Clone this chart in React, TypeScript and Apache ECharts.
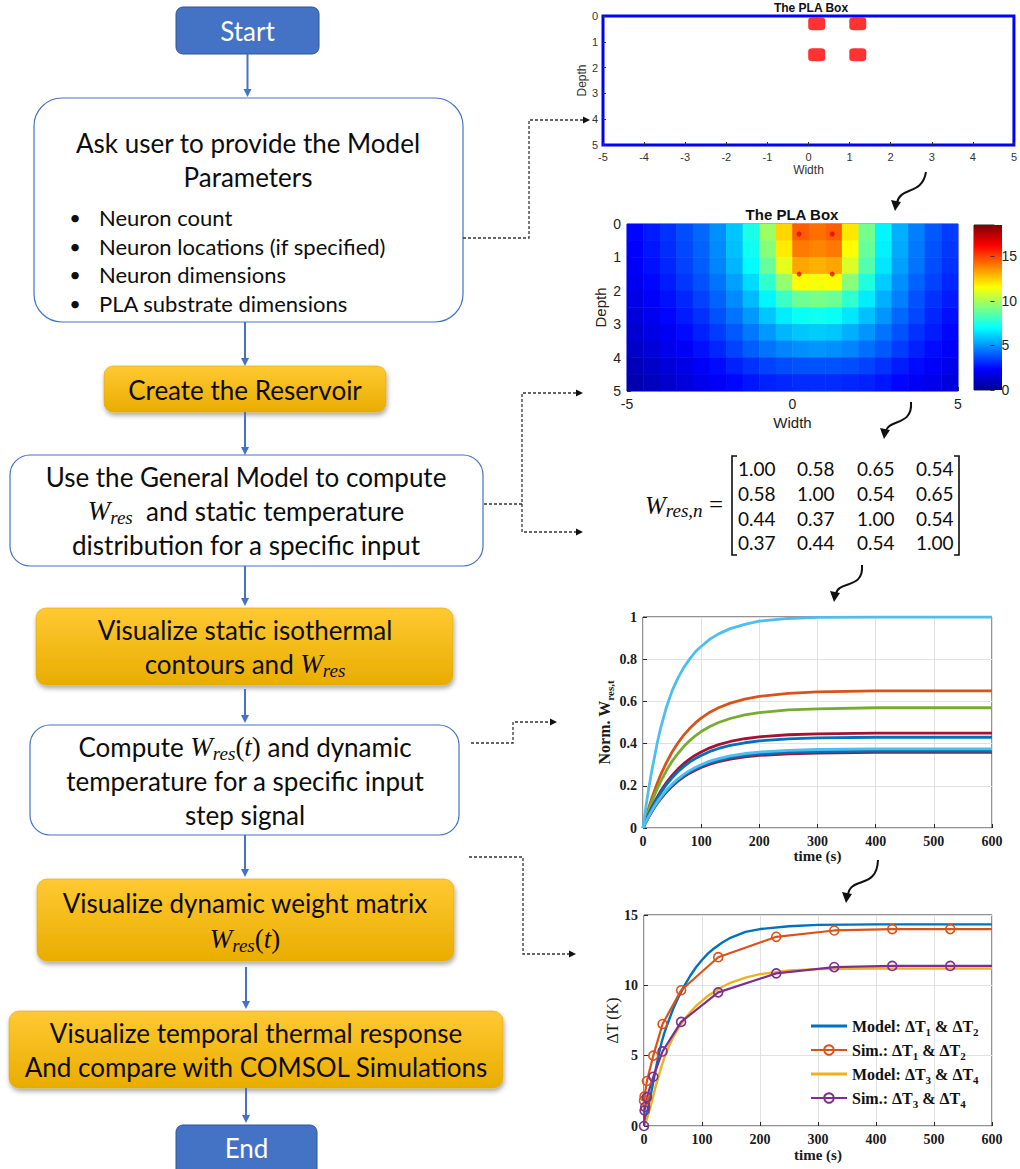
import React, { useEffect, useRef } from "react";
import * as echarts from "echarts";

// ---------------- data ----------------
const neuronX = [0.2, 1.2];
const neuronDepth = [0.3, 1.5];

const heatWidthCenters = [-4.75, -4.25, -3.75, -3.25, -2.75, -2.25, -1.75, -1.25, -0.75, -0.25, 0.25, 0.75, 1.25, 1.75, 2.25, 2.75, 3.25, 3.75, 4.25, 4.75];
const heatDepthCenters = [0.25, 0.75, 1.25, 1.75, 2.25, 2.75, 3.25, 3.75, 4.25, 4.75];
const heatRows = [
  [2.4, 2.8, 3.2, 3.7, 4.2, 4.9, 5.9, 7.4, 9.8, 12.3, 14.5, 14.2, 14.5, 12.0, 9.0, 6.8, 5.5, 4.6, 3.9, 3.4],
  [2.3, 2.7, 3.1, 3.6, 4.1, 4.8, 5.8, 7.2, 9.4, 11.9, 14.0, 13.8, 14.0, 11.6, 8.8, 6.7, 5.4, 4.5, 3.8, 3.3],
  [2.2, 2.6, 3.0, 3.5, 4.0, 4.7, 5.6, 6.9, 8.8, 11.1, 13.2, 13.0, 13.2, 10.9, 8.4, 6.5, 5.2, 4.4, 3.7, 3.2],
  [2.0, 2.4, 2.8, 3.3, 3.8, 4.4, 5.2, 6.3, 7.8, 9.6, 11.6, 11.4, 11.6, 9.4, 7.5, 6.0, 4.9, 4.1, 3.5, 3.0],
  [1.8, 2.2, 2.6, 3.0, 3.5, 4.1, 4.8, 5.7, 6.8, 8.0, 8.9, 9.1, 8.9, 7.8, 6.6, 5.5, 4.6, 3.8, 3.2, 2.8],
  [1.6, 2.0, 2.4, 2.8, 3.2, 3.8, 4.4, 5.1, 5.9, 6.6, 7.1, 7.2, 7.1, 6.5, 5.8, 5.0, 4.2, 3.6, 3.0, 2.6],
  [1.4, 1.8, 2.1, 2.5, 2.9, 3.4, 3.9, 4.5, 5.1, 5.6, 5.9, 6.0, 5.9, 5.5, 5.0, 4.4, 3.8, 3.2, 2.8, 2.4],
  [1.2, 1.5, 1.9, 2.2, 2.6, 3.0, 3.5, 4.0, 4.4, 4.7, 4.9, 5.0, 4.9, 4.7, 4.3, 3.9, 3.4, 2.9, 2.5, 2.2],
  [0.9, 1.2, 1.5, 1.8, 2.2, 2.5, 2.9, 3.2, 3.5, 3.7, 3.8, 3.8, 3.8, 3.7, 3.5, 3.2, 2.8, 2.5, 2.2, 1.9],
  [0.7, 1.0, 1.3, 1.6, 1.9, 2.2, 2.4, 2.7, 2.9, 3.0, 3.1, 3.1, 3.1, 3.0, 2.9, 2.7, 2.4, 2.1, 1.9, 1.6],
];
const colorbarMax = 18.5;

const matrixRows = [
  ["1.00", "0.58", "0.65", "0.54"],
  ["0.58", "1.00", "0.54", "0.65"],
  ["0.44", "0.37", "1.00", "0.54"],
  ["0.37", "0.44", "0.54", "1.00"],
];

const timeNorm = [0, 5, 10, 15, 20, 25, 30, 40, 50, 60, 70, 80, 90, 100, 115, 130, 150, 175, 200, 250, 300, 400, 600];
const normSelf = [0, 0.1, 0.19, 0.27, 0.34, 0.41, 0.47, 0.57, 0.65, 0.71, 0.76, 0.8, 0.835, 0.86, 0.895, 0.92, 0.945, 0.965, 0.98, 0.993, 0.998, 1.0, 1.0];
const normOrange = [0, 0.05, 0.097, 0.14, 0.179, 0.216, 0.25, 0.309, 0.36, 0.403, 0.44, 0.471, 0.498, 0.521, 0.549, 0.57, 0.592, 0.611, 0.624, 0.638, 0.645, 0.65, 0.65];
const normGreen = [0, 0.044, 0.085, 0.123, 0.157, 0.189, 0.219, 0.271, 0.316, 0.353, 0.386, 0.413, 0.437, 0.457, 0.481, 0.5, 0.519, 0.536, 0.547, 0.56, 0.565, 0.57, 0.57];
const normRedHigh = [0, 0.035, 0.067, 0.097, 0.124, 0.149, 0.173, 0.214, 0.249, 0.279, 0.305, 0.326, 0.345, 0.36, 0.38, 0.395, 0.41, 0.423, 0.432, 0.442, 0.446, 0.45, 0.45];
const normBlueHigh = [0, 0.033, 0.064, 0.092, 0.119, 0.143, 0.165, 0.205, 0.238, 0.267, 0.291, 0.312, 0.329, 0.344, 0.363, 0.377, 0.392, 0.404, 0.413, 0.422, 0.427, 0.43, 0.43];
const normRedLow = [0, 0.028, 0.053, 0.077, 0.099, 0.119, 0.137, 0.17, 0.198, 0.222, 0.242, 0.26, 0.274, 0.287, 0.302, 0.314, 0.326, 0.337, 0.344, 0.352, 0.355, 0.358, 0.358];
const normBlueLow = [0, 0.028, 0.054, 0.078, 0.101, 0.121, 0.14, 0.174, 0.202, 0.226, 0.247, 0.265, 0.28, 0.292, 0.308, 0.32, 0.333, 0.343, 0.35, 0.358, 0.362, 0.365, 0.365];
const normCyanLow = [0, 0.029, 0.056, 0.081, 0.104, 0.125, 0.144, 0.179, 0.208, 0.233, 0.254, 0.272, 0.287, 0.3, 0.317, 0.329, 0.342, 0.353, 0.36, 0.368, 0.372, 0.375, 0.375];

const modelTime = [0, 5, 10, 15, 20, 25, 30, 35, 40, 50, 60, 70, 80, 90, 100, 110, 120, 135, 150, 175, 200, 250, 300, 400, 600];
const modelT12 = [0, 0.9, 1.9, 2.9, 4.0, 5.0, 5.9, 6.6, 7.2, 8.3, 9.2, 10.0, 10.7, 11.3, 11.8, 12.25, 12.6, 13.05, 13.4, 13.8, 14.0, 14.2, 14.3, 14.33, 14.33];
const modelT34 = [0, 0.5, 1.2, 2.0, 2.8, 3.5, 4.2, 4.85, 5.4, 6.3, 7.0, 7.6, 8.1, 8.55, 8.9, 9.25, 9.5, 9.9, 10.2, 10.55, 10.8, 11.05, 11.15, 11.2, 11.2];
const simTime12 = [0, 1, 5, 16, 32, 64, 128, 228, 328, 428, 528, 600];
const simT12 = [1.8, 2.1, 3.2, 5.0, 7.25, 9.65, 12.0, 13.45, 13.9, 14.0, 14.0, 14.0];
const simTime34 = [0, 1, 2, 5, 16, 32, 64, 128, 228, 328, 428, 528, 600];
const simT34 = [0, 1.1, 1.35, 2.05, 3.5, 5.3, 7.4, 9.5, 10.85, 11.3, 11.38, 11.38, 11.38];
const legendNames = ["Model: ΔT1 & ΔT2", "Sim.: ΔT1 & ΔT2", "Model: ΔT3 & ΔT4", "Sim.: ΔT3 & ΔT4"];

// ---------------- styles ----------------
const FLOW = "Lato, 'Noto Sans', sans-serif";
const SERIF = "'Liberation Serif', 'DejaVu Serif', serif";
const ARIAL = "'Liberation Sans', Arial, sans-serif";
const BLUE = "#4472C4";
const INK = "#0d0d0d";
const JET = ["#00008F", "#0000FF", "#0080FF", "#00FFFF", "#80FF80", "#FFFF00", "#FF8000", "#FF0000", "#800000"];
const FS = 26;
// legend icon for plain model lines: a centred horizontal band inside a 36x12 box
const LINE_ICON = "path://M0,0L0.01,0L0.01,0.01Z M0,4.6L36,4.6L36,7.4L0,7.4Z M35.99,12L36,12L36,11.99Z";

const flowRich = (size: number) => ({
  t: { fill: INK, fontFamily: FLOW, fontSize: size, lineHeight: 32 },
  w: { fill: INK, fontFamily: SERIF, fontStyle: "italic", fontSize: size + 1, lineHeight: 32 },
  p: { fill: INK, fontFamily: SERIF, fontSize: size + 1, lineHeight: 32 },
  s: { fill: INK, fontFamily: SERIF, fontStyle: "italic", fontSize: size - 7, lineHeight: 19, verticalAlign: "bottom" },
});

function txt(x: number, y: number, text: string, o: any = {}) {
  return {
    type: "text",
    x,
    y,
    z: 50,
    silent: true,
    style: {
      text,
      fill: o.fill || INK,
      fontSize: o.size || FS,
      fontFamily: o.font || FLOW,
      fontWeight: o.weight || "normal",
      fontStyle: o.fontStyle || "normal",
      align: o.align || "center",
      verticalAlign: "middle",
      rich: o.rich,
    },
  };
}

function box(x: number, y: number, w: number, h: number, kind: string, r = 10) {
  if (kind === "gold") {
    return {
      type: "rect",
      silent: true,
      shape: { x, y, width: w, height: h, r },
      style: {
        fill: new echarts.graphic.LinearGradient(0, 0, 0, 1, [
          { offset: 0, color: "#FFC933" },
          { offset: 1, color: "#E9AD00" },
        ]),
        stroke: "#E0A800",
        lineWidth: 0.6,
        shadowBlur: 5,
        shadowOffsetX: 1,
        shadowOffsetY: 3,
        shadowColor: "rgba(0,0,0,0.35)",
      },
    };
  }
  if (kind === "blue") {
    return {
      type: "rect",
      silent: true,
      shape: { x, y, width: w, height: h, r },
      style: { fill: BLUE, stroke: "#2F5597", lineWidth: 1 },
    };
  }
  return {
    type: "rect",
    silent: true,
    shape: { x, y, width: w, height: h, r },
    style: { fill: "#FFFFFF", stroke: BLUE, lineWidth: 1.2 },
  };
}

function downArrow(x: number, y1: number, y2: number) {
  return [
    { type: "line", silent: true, shape: { x1: x, y1, x2: x, y2: y2 - 6 }, style: { stroke: BLUE, lineWidth: 2 } },
    { type: "polygon", silent: true, shape: { points: [[x - 4, y2 - 8], [x + 4, y2 - 8], [x, y2]] }, style: { fill: BLUE } },
  ];
}

function dashed(points: number[][]) {
  return { type: "polyline", silent: true, shape: { points }, style: { stroke: "#333", lineWidth: 1.3, lineDash: [3, 2], fill: null } };
}
function rightHead(x: number, y: number) {
  return { type: "polygon", silent: true, shape: { points: [[x - 7, y - 3.5], [x - 7, y + 3.5], [x, y]] }, style: { fill: "#111" } };
}

function curvyArrow(x1: number, y1: number, c1x: number, c1y: number, c2x: number, c2y: number, x2: number, y2: number) {
  return [
    {
      type: "bezierCurve",
      silent: true,
      shape: { x1, y1, cpx1: c1x, cpy1: c1y, cpx2: c2x, cpy2: c2y, x2, y2 },
      style: { stroke: "#111", lineWidth: 2, fill: null },
    },
    {
      type: "polygon",
      silent: true,
      shape: { points: [[x2 - 6, y2 - 3], [x2 + 4, y2 - 1], [x2 - 2, y2 + 8]] },
      style: { fill: "#111" },
    },
  ];
}

function buildGraphics() {
  const els: any[] = [];
  // ---- flowchart ----
  els.push(box(176, 7, 143, 47, "blue", 7));
  els.push(txt(247.5, 31, "Start", { fill: "#FFFFFF", size: 26 }));
  els.push(...downArrow(247.5, 54, 97));

  els.push(box(34, 98, 429, 224, "white", 28));
  els.push(txt(248, 143, "Ask user to provide the Model"));
  els.push(txt(248, 177, "Parameters"));
  const bullets = ["Neuron count", "Neuron locations (if specified)", "Neuron dimensions", "PLA substrate dimensions"];
  const bulletY = [217, 246, 274, 303];
  bullets.forEach((b, i) => {
    els.push(txt(75, bulletY[i], "•", { size: 20, align: "center" }));
    els.push(txt(99, bulletY[i], b, { size: 22, align: "left" }));
  });
  els.push(...downArrow(245, 322, 366));

  els.push(box(104, 366, 282, 46, "gold", 9));
  els.push(txt(245, 390, "Create the Reservoir"));
  els.push(...downArrow(245, 412, 455));

  els.push(box(10, 455, 473, 111, "white", 20));
  els.push(txt(246, 477, "Use the General Model to compute"));
  els.push(txt(246, 511, "{w|W}{s|res}{t|  and static temperature}", { rich: flowRich(FS) }));
  els.push(txt(246, 545, "distribution for a specific input"));
  els.push(...downArrow(245, 566, 606));

  els.push(box(36, 608, 417, 77, "gold", 10));
  els.push(txt(245, 630, "Visualize static isothermal"));
  els.push(txt(245, 664, "{t|contours and }{w|W}{s|res}", { rich: flowRich(FS) }));
  els.push(...downArrow(245, 689, 723));

  els.push(box(30, 725, 429, 110, "white", 20));
  els.push(txt(245, 747, "{t|Compute }{w|W}{s|res}{p|(}{w|t}{p|)}{t| and dynamic}", { rich: flowRich(FS) }));
  els.push(txt(245, 781, "temperature for a specific input"));
  els.push(txt(245, 815, "step signal"));
  els.push(...downArrow(245, 835, 877));

  els.push(box(37, 879, 417, 82, "gold", 10));
  els.push(txt(245, 903, "Visualize dynamic weight matrix"));
  els.push(txt(245, 939, "{w|W}{s|res}{p|(}{w|t}{p|)}", { rich: flowRich(FS) }));
  els.push(...downArrow(246, 967, 1009));

  els.push(box(9, 1011, 494, 77, "gold", 10));
  els.push(txt(256, 1033, "Visualize temporal thermal response"));
  els.push(txt(256, 1067, "And compare with COMSOL Simulations"));
  els.push(...downArrow(246, 1088, 1123));

  els.push(box(176, 1125, 141, 60, "blue", 7));
  els.push(txt(246.5, 1148, "End", { fill: "#FFFFFF", size: 26 }));

  // ---- dashed connectors ----
  els.push(dashed([[463, 238], [529, 238], [529, 120], [584, 120]]));
  els.push(rightHead(590, 120));
  els.push(dashed([[484, 504], [522, 504]]));
  els.push(dashed([[576, 393], [522, 393], [522, 532], [576, 532]]));
  els.push(rightHead(583, 393));
  els.push(rightHead(583, 532));
  els.push(dashed([[471, 743], [513, 743], [513, 722], [551, 722]]));
  els.push(rightHead(557, 722));
  els.push(dashed([[469, 857], [523, 857], [523, 954], [570, 954]]));
  els.push(rightHead(576, 954));

  // ---- curvy arrows ----
  els.push(...curvyArrow(926, 172, 922, 196, 900, 186, 897, 203));
  els.push(...curvyArrow(911, 402, 913, 426, 889, 419, 886, 431));
  els.push(...curvyArrow(862, 565, 864, 590, 838, 580, 836, 594));
  els.push(...curvyArrow(878, 860, 877, 890, 850, 876, 848, 895));

  // ---- chart titles ----
  els.push(txt(811, 8, "The PLA Box", { font: ARIAL, weight: "bold", size: 12, fill: "#111" }));
  els.push(txt(792, 214, "The PLA Box", { font: ARIAL, weight: "bold", size: 15, fill: "#111" }));

  // ---- colorbar ----
  els.push({
    type: "rect",
    silent: true,
    shape: { x: 974, y: 225, width: 28, height: 165 },
    style: {
      fill: new echarts.graphic.LinearGradient(
        0, 1, 0, 0,
        JET.map((c, i) => ({ offset: i / (JET.length - 1), color: c }))
      ),
    },
  });

  // ---- matrix ----
  els.push(
    txt(645, 505, "{w|W}{s|res,n}", {
      align: "left",
      rich: {
        w: { fill: INK, fontFamily: SERIF, fontStyle: "italic", fontSize: 25, lineHeight: 30 },
        s: { fill: INK, fontFamily: SERIF, fontStyle: "italic", fontSize: 19, lineHeight: 19, verticalAlign: "bottom" },
      },
    })
  );
  els.push(txt(716, 504, "=", { font: SERIF, size: 25 }));
  const colX = [738, 797, 857, 916];
  const rowY = [468, 493, 518, 542];
  matrixRows.forEach((row, ri) =>
    row.forEach((v, ci) => els.push(txt(colX[ci], rowY[ri], v, { align: "left", size: 19 })))
  );
  els.push({ type: "polyline", silent: true, shape: { points: [[737, 456], [732, 456], [732, 555], [737, 555]] }, style: { stroke: INK, lineWidth: 1.6, fill: null } });
  els.push({ type: "polyline", silent: true, shape: { points: [[954, 456], [959, 456], [959, 555], [954, 555]] }, style: { stroke: INK, lineWidth: 1.6, fill: null } });

  return els;
}

// ---------------- chart option ----------------
function matAxisLabel(size = 14) {
  return { fontFamily: SERIF, fontWeight: "bold", fontSize: size, color: "#1a1a1a" };
}
const noLine = { show: false, onZero: false };

function buildOption() {
  const heatData: number[][] = [];
  heatRows.forEach((row, yi) => row.forEach((v, xi) => heatData.push([xi, yi, v])));
  const neuronPts: number[][] = [];
  neuronDepth.forEach((d) => neuronX.forEach((x) => neuronPts.push([x, d])));

  const zip = (xs: number[], ys: number[]) => xs.map((x, i) => [x, ys[i]]);
  const normSeries = [
    { d: normOrange, c: "#D95319" },
    { d: normGreen, c: "#77AC30" },
    { d: normRedHigh, c: "#A2142F" },
    { d: normBlueHigh, c: "#0072BD" },
    { d: normRedLow, c: "#A2142F" },
    { d: normBlueLow, c: "#0072BD" },
    { d: normCyanLow, c: "#4DBEEE" },
    { d: normSelf, c: "#4DBEEE" },
  ].map((s) => ({
    type: "line",
    xAxisIndex: 4,
    yAxisIndex: 4,
    symbol: "none",
    showSymbol: false,
    smooth: false,
    silent: true,
    lineStyle: { color: s.c, width: 2.8, join: "round" },
    itemStyle: { color: s.c },
    data: zip(timeNorm, s.d),
  }));

  const simData = (ts: number[], vs: number[]) =>
    ts.map((t, i) => (i === ts.length - 1 ? { value: [t, vs[i]], symbol: "none" } : { value: [t, vs[i]] }));

  const legendRich = {
    b: { fontFamily: SERIF, fontWeight: "bold", fontSize: 16, color: "#111", lineHeight: 22 },
    s: { fontFamily: SERIF, fontWeight: "bold", fontSize: 11, color: "#111", lineHeight: 10, verticalAlign: "bottom" },
  };

  const simStyle = (c: string) => ({
    symbol: "circle",
    symbolSize: 9,
    itemStyle: { color: "rgba(255,255,255,0)", borderColor: c, borderWidth: 1.6 },
    lineStyle: { color: c, width: 2.2 },
  });

  const gridBorder = { show: true, borderColor: "#262626", borderWidth: 1, backgroundColor: "transparent" };

  return {
    animation: false,
    backgroundColor: "#FFFFFF",
    grid: [
      { left: 603, top: 16, width: 417, height: 129, show: true, borderColor: "#0000FF", borderWidth: 3, backgroundColor: "#FFFFFF" },
      { left: 627, top: 224, width: 331, height: 167, show: true, borderColor: "#3344FF", borderWidth: 1, backgroundColor: "transparent" },
      { left: 974, top: 225, width: 28, height: 165, ...gridBorder },
      { left: 643, top: 617, width: 349, height: 211, ...gridBorder },
      { left: 644, top: 915, width: 348, height: 211, ...gridBorder },
    ],
    xAxis: [
      {
        gridIndex: 0, type: "value", min: -5, max: 5, interval: 1,
        axisLine: noLine, splitLine: { show: false },
        axisTick: { inside: true, length: 3, lineStyle: { color: "#333" } },
        axisLabel: { fontFamily: ARIAL, fontSize: 11, color: "#333", margin: 6 },
        name: "Width", nameLocation: "middle", nameGap: 19,
        nameTextStyle: { fontFamily: ARIAL, fontSize: 12, color: "#333" },
      },
      {
        gridIndex: 1, type: "value", min: -5, max: 5, interval: 5,
        axisLine: noLine, splitLine: { show: false },
        axisTick: { inside: true, length: 4, lineStyle: { color: "#333" } },
        axisLabel: { fontFamily: ARIAL, fontSize: 14, color: "#222", margin: 6 },
        name: "Width", nameLocation: "middle", nameGap: 24,
        nameTextStyle: { fontFamily: ARIAL, fontSize: 15, color: "#222" },
      },
      { gridIndex: 1, type: "category", data: heatWidthCenters, show: false },
      { gridIndex: 2, type: "value", min: 0, max: 1, show: false },
      {
        gridIndex: 3, type: "value", min: 0, max: 600, interval: 100,
        axisLine: noLine,
        splitLine: { show: true, lineStyle: { color: "#E1E1E1", width: 1 } },
        axisTick: { inside: true, length: 4, lineStyle: { color: "#262626" } },
        axisLabel: { ...matAxisLabel(14), margin: 6 },
        name: "time (s)", nameLocation: "middle", nameGap: 16,
        nameTextStyle: { fontFamily: SERIF, fontWeight: "bold", fontSize: 15, color: "#1a1a1a", verticalAlign: "top" },
      },
      {
        gridIndex: 4, type: "value", min: 0, max: 600, interval: 100,
        axisLine: noLine,
        splitLine: { show: true, lineStyle: { color: "#E1E1E1", width: 1 } },
        axisTick: { inside: true, length: 4, lineStyle: { color: "#262626" } },
        axisLabel: { ...matAxisLabel(14), margin: 6 },
        name: "time (s)", nameLocation: "middle", nameGap: 21,
        nameTextStyle: { fontFamily: SERIF, fontWeight: "bold", fontSize: 15, color: "#1a1a1a", verticalAlign: "top" },
      },
    ],
    yAxis: [
      {
        gridIndex: 0, type: "value", min: 0, max: 5, interval: 1, inverse: true,
        axisLine: noLine, splitLine: { show: false },
        axisTick: { inside: true, length: 3, lineStyle: { color: "#333" } },
        axisLabel: { fontFamily: ARIAL, fontSize: 11, color: "#333", margin: 5 },
        name: "Depth", nameLocation: "middle", nameGap: 11,
        nameTextStyle: { fontFamily: ARIAL, fontSize: 12, color: "#333" },
      },
      {
        gridIndex: 1, type: "value", min: 0, max: 5, interval: 1, inverse: true,
        axisLine: noLine, splitLine: { show: false },
        axisTick: { inside: true, length: 4, lineStyle: { color: "#333" } },
        axisLabel: { fontFamily: ARIAL, fontSize: 14, color: "#222", margin: 6 },
        name: "Depth", nameLocation: "middle", nameGap: 19,
        nameTextStyle: { fontFamily: ARIAL, fontSize: 15, color: "#222" },
      },
      { gridIndex: 1, type: "category", data: heatDepthCenters, inverse: true, show: false },
      {
        gridIndex: 2, type: "value", min: 0, max: colorbarMax, interval: 5, position: "right",
        axisLine: noLine, splitLine: { show: false },
        axisTick: { inside: true, length: 4, lineStyle: { color: "#333" } },
        axisLabel: {
          fontFamily: ARIAL, fontSize: 14, color: "#222", margin: 7, showMaxLabel: false,
          formatter: (v: number) => (v % 5 === 0 ? String(v) : ""),
        },
      },
      {
        gridIndex: 3, type: "value", min: 0, max: 1, interval: 0.2,
        axisLine: noLine,
        splitLine: { show: true, lineStyle: { color: "#E1E1E1", width: 1 } },
        axisTick: { inside: true, length: 4, lineStyle: { color: "#262626" } },
        axisLabel: { ...matAxisLabel(14), margin: 6, formatter: (v: number) => String(Math.round(v * 10) / 10) },
        name: "{a|Norm. W}{b|res,t}", nameLocation: "middle", nameGap: 20,
        nameTextStyle: {
          rich: {
            a: { fontFamily: SERIF, fontWeight: "bold", fontSize: 16, color: "#1a1a1a", lineHeight: 22 },
            b: { fontFamily: SERIF, fontWeight: "bold", fontSize: 11, color: "#1a1a1a", lineHeight: 10, verticalAlign: "bottom" },
          },
        },
      },
      {
        gridIndex: 4, type: "value", min: 0, max: 15, interval: 5,
        axisLine: noLine,
        splitLine: { show: true, lineStyle: { color: "#E1E1E1", width: 1 } },
        axisTick: { inside: true, length: 4, lineStyle: { color: "#262626" } },
        axisLabel: { ...matAxisLabel(14), margin: 6 },
        name: "ΔT (K)", nameLocation: "middle", nameGap: 17,
        nameTextStyle: { fontFamily: SERIF, fontSize: 16, color: "#1a1a1a" },
      },
    ],
    visualMap: [
      { type: "continuous", show: false, seriesIndex: 1, dimension: 2, min: 0, max: colorbarMax, inRange: { color: JET } },
    ],
    legend: {
      data: [
        { name: legendNames[0], icon: LINE_ICON },
        { name: legendNames[1] },
        { name: legendNames[2], icon: LINE_ICON },
        { name: legendNames[3] },
      ],
      orient: "vertical",
      left: 810,
      top: 1018,
      itemWidth: 36,
      itemHeight: 12,
      itemGap: 5,
      padding: 0,
      selectedMode: false,
      formatter: (name: string) =>
        name
          .split(/(ΔT\d)/)
          .filter((p) => p.length > 0)
          .map((p) => (/^ΔT\d$/.test(p) ? `{b|ΔT}{s|${p.slice(2)}}` : `{b|${p}}`))
          .join(""),
      textStyle: { rich: legendRich },
    },
    graphic: { elements: buildGraphics() },
    series: [
      {
        type: "scatter", xAxisIndex: 0, yAxisIndex: 0, silent: true,
        symbol: "roundRect", symbolSize: [17, 13], itemStyle: { color: "#FF0000" },
        data: neuronPts,
      },
      {
        type: "heatmap", xAxisIndex: 2, yAxisIndex: 2, silent: true, progressive: 0,
        data: heatData,
      },
      {
        type: "scatter", xAxisIndex: 1, yAxisIndex: 1, silent: true,
        symbolSize: 5, itemStyle: { color: "#E00000", opacity: 0.75 },
        data: neuronPts,
      },
      ...normSeries,
      {
        name: legendNames[0], type: "line", xAxisIndex: 5, yAxisIndex: 5, silent: true,
        symbol: "none", showSymbol: false, smooth: false,
        lineStyle: { color: "#0072BD", width: 2.4, join: "round" }, itemStyle: { color: "#0072BD" },
        data: zip(modelTime, modelT12),
      },
      {
        name: legendNames[2], type: "line", xAxisIndex: 5, yAxisIndex: 5, silent: true,
        symbol: "none", showSymbol: false, smooth: false,
        lineStyle: { color: "#EDB120", width: 2.4, join: "round" }, itemStyle: { color: "#EDB120" },
        data: zip(modelTime, modelT34),
      },
      {
        name: legendNames[1], type: "line", xAxisIndex: 5, yAxisIndex: 5, silent: true,
        ...simStyle("#D95319"),
        data: simData(simTime12, simT12),
      },
      {
        name: legendNames[3], type: "line", xAxisIndex: 5, yAxisIndex: 5, silent: true,
        ...simStyle("#7E2F8E"),
        data: simData(simTime34, simT34),
      },
    ],
  };
}

export default function App() {
  const ref = useRef<HTMLDivElement>(null);
  useEffect(() => {
    if (!ref.current) return;
    const chart = echarts.init(ref.current, undefined, { renderer: "svg" });
    chart.setOption(buildOption() as any);
    return () => chart.dispose();
  }, []);
  return (
    <div
      ref={ref}
      style={{ position: "absolute", left: 0, top: 0, width: 1020, height: 1169, background: "#FFFFFF" }}
    />
  );
}
